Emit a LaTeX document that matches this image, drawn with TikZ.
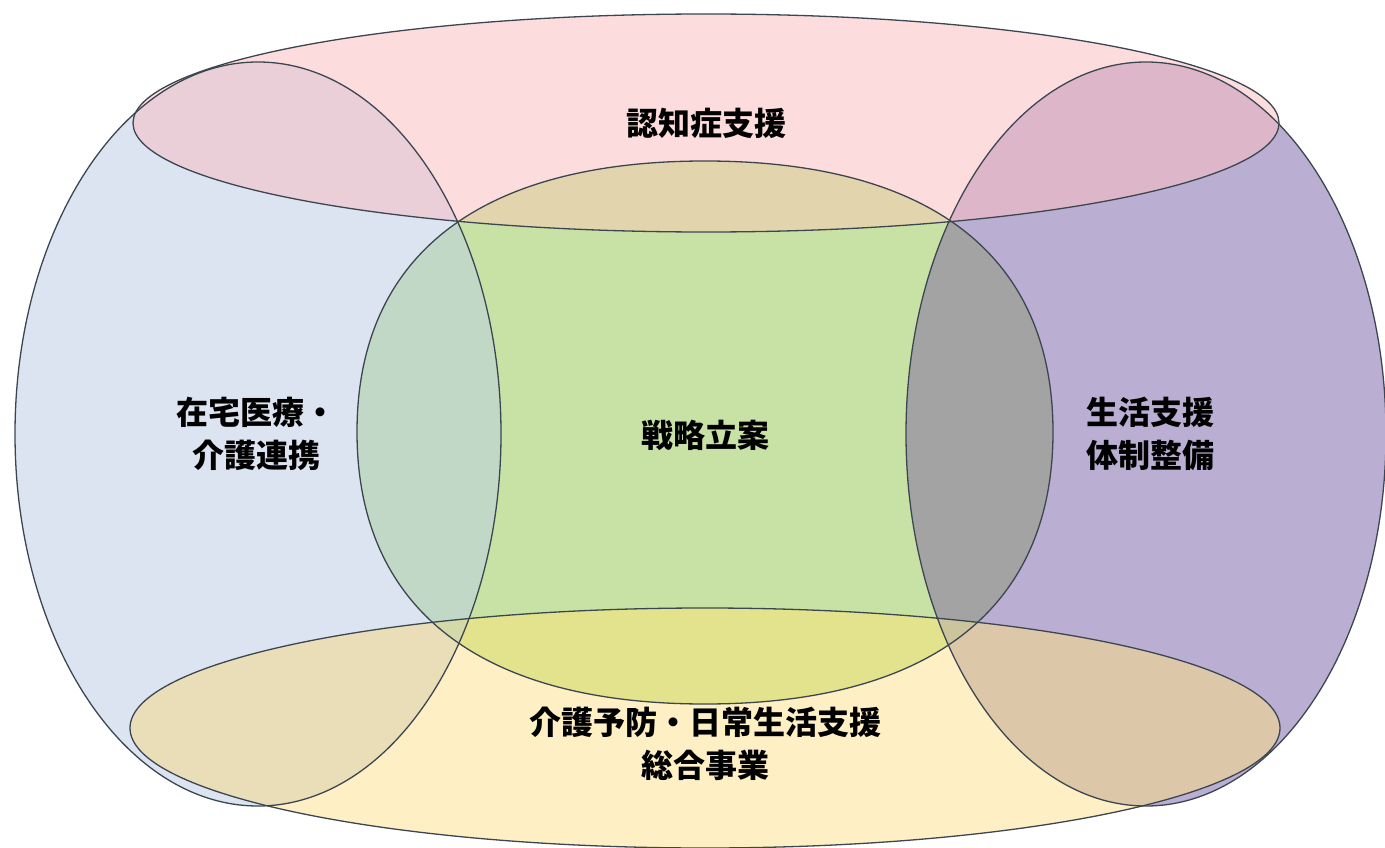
\documentclass[tikz,border=0pt]{standalone}
\usepackage{fontspec}
\newfontfamily\jp{Noto Sans CJK JP}
\definecolor{cblue}{HTML}{DCE4F2}
\definecolor{cpink}{HTML}{FDDCDD}
\definecolor{cpurple}{HTML}{BBAED3}
\definecolor{cgreen}{HTML}{C8E2A6}
\definecolor{cyellow}{HTML}{FFEFC4}
\definecolor{cpinkblue}{HTML}{EBCFD8}
\definecolor{cpinkpurple}{HTML}{DDB7C9}
\definecolor{cgreenblue}{HTML}{C2D8C6}
\definecolor{cgreenpurple}{HTML}{A3A3A3}
\definecolor{cgreenpink}{HTML}{E2D4AC}
\definecolor{cyellowgreen}{HTML}{E2E38C}
\definecolor{cyellowblue}{HTML}{EADEB9}
\definecolor{cyellowpurple}{HTML}{DCC8A8}
\definecolor{cygb}{HTML}{D3D9A8}
\definecolor{cygp}{HTML}{CBC49C}
\definecolor{cline}{HTML}{3C4650}
\def\pBlue{(258,434) ellipse [x radius=243, y radius=372]}
\def\pPurple{(1146,434) ellipse [x radius=240, y radius=372]}
\def\pPink{(706,123) ellipse [x radius=573, y radius=109]}
\def\pYellow{(705,728) ellipse [x radius=575, y radius=120]}
\def\pGreen{(357,432) .. controls (357,256) and (479,161) .. (705,161) .. controls (931,161) and (1053,256) .. (1053,432) .. controls (1053,608) and (931,704) .. (705,704) .. controls (479,704) and (357,608) .. (357,432) -- cycle}
\tikzset{
  outline/.style={draw=cline, line width=1.3pt},
  label/.style={font=\jp\bfseries\fontsize{32}{43}\selectfont, align=center, text=black, inner sep=0pt}
}
\begin{document}
\begin{tikzpicture}[x=1pt,y=-1pt]
\useasboundingbox (0,0) rectangle (1385,848);
\fill[white] (0,0) rectangle (1385,848);
% base fills
\fill[cblue] \pBlue;
\fill[cpurple] \pPurple;
\fill[cpink] \pPink;
\fill[cyellow] \pYellow;
\fill[cgreen] \pGreen;
% overlaps
\begin{scope}
  \clip \pBlue;
  \fill[cpinkblue] \pPink;
  \fill[cyellowblue] \pYellow;
  \fill[cgreenblue] \pGreen;
\end{scope}
\begin{scope}
  \clip \pPurple;
  \fill[cpinkpurple] \pPink;
  \fill[cyellowpurple] \pYellow;
  \fill[cgreenpurple] \pGreen;
\end{scope}
\begin{scope}
  \clip \pPink;
  \fill[cgreenpink] \pGreen;
\end{scope}
\begin{scope}
  \clip \pYellow;
  \fill[cyellowgreen] \pGreen;
\end{scope}
\begin{scope}
  \clip \pYellow; \clip \pBlue;
  \fill[cygb] \pGreen;
\end{scope}
\begin{scope}
  \clip \pYellow; \clip \pPurple;
  \fill[cygp] \pGreen;
\end{scope}
% outlines
\draw[outline] \pBlue;
\draw[outline] \pPurple;
\draw[outline] \pGreen;
\draw[outline] \pPink;
\draw[outline] \pYellow;
% labels
\node[label] (ninchi) at (706,123) {認知症支援};
\node[label] (zaitaku) at (256,434) {在宅医療・\\介護連携};
\node[label] (senryaku) at (705,435) {戦略立案};
\node[label] (seikatsu) at (1150,434) {生活支援\\体制整備};
\node[label] (kaigo) at (705,744) {介護予防・日常生活支援\\総合事業};
\end{tikzpicture}
\end{document}
